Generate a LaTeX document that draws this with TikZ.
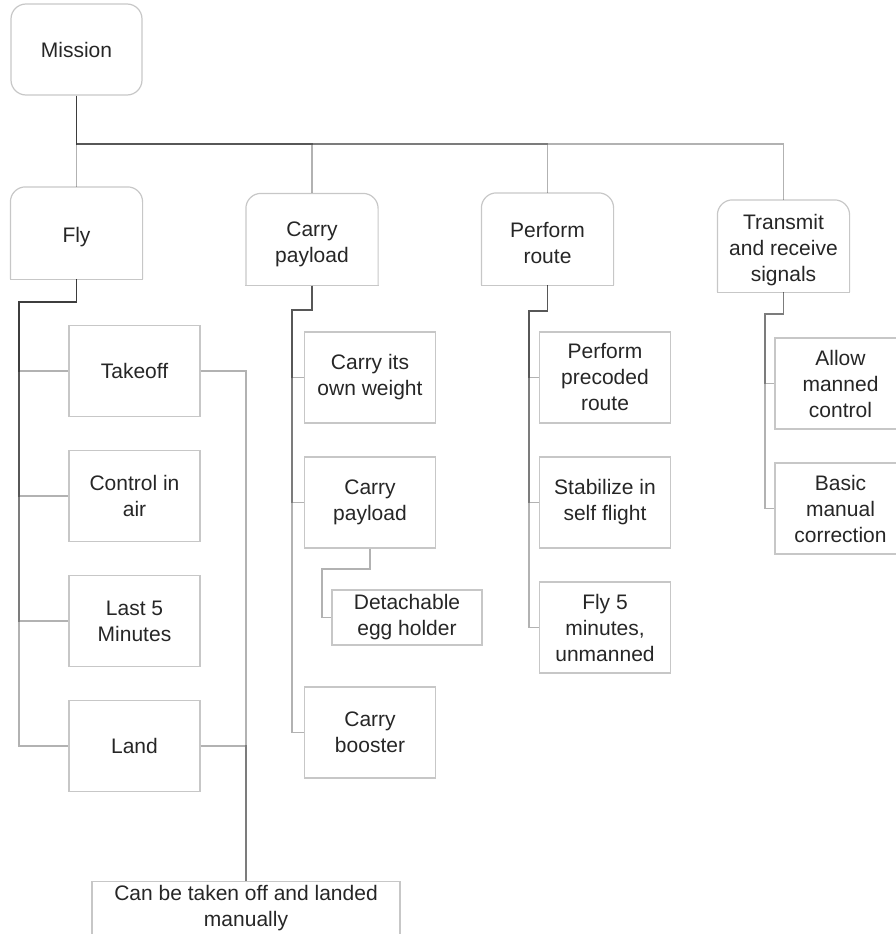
\documentclass[tikz,border=0pt]{standalone}
\usepackage{fontspec}
\setmainfont{Liberation Sans}
\usetikzlibrary{positioning}
\newcommand{\headgap}{\rule{0pt}{24pt}}

\begin{document}
\begin{tikzpicture}[
    x=1pt, y=1pt,
    node distance=32.8pt,
    leaf/.style={rectangle, draw=black!22, line width=1.2pt, align=center, minimum width=131pt, minimum height=91pt, inner sep=2pt, text=black!85, font=\fontsize{21}{26}\selectfont},
    head/.style={leaf, draw=none},
    rim/.style={draw=black!22, line width=1.2pt, rounded corners=15pt},
    link/.style={draw=black, draw opacity=0.3, line width=1.2pt}
]
\path[use as bounding box, clip] (0,0) rectangle (896,-934);

% Nodes
\node[leaf, rounded corners=15pt] (mission) at (76.5,-49.5) {Mission};

\node[head] (fly) at (76.5,-233) {\headgap Fly};
\node[head] (carry) at (312,-239.5) {\headgap Carry\\payload};
\node[head] (route) at (547.5,-239) {\headgap Perform\\route};
\node[head] (signal) at (783.5,-246) {\headgap Transmit\\and receive\\signals};

\node[leaf] (takeoff) at (134.5,-371) {Takeoff};
\node[leaf, below=of takeoff] (ctrl) {Control in\\air};
\node[leaf, below=of ctrl] (last) {Last 5\\Minutes};
\node[leaf, below=of last] (land) {Land};

\node[leaf] (ownweight) at (370,-377.5) {Carry its\\own weight};
\node[leaf, below=of ownweight] (cpay) {Carry\\payload};
\node[leaf, minimum width=150pt, minimum height=55pt] (egg) at (407,-617.5) {Detachable\\egg holder};
\node[leaf] (booster) at (370,-732.5) {Carry\\booster};

\node[leaf] (precoded) at (605,-377.5) {Perform\\precoded\\route};
\node[leaf, below=of precoded] (stabilize) {Stabilize in\\self flight};
\node[leaf, below=of stabilize] (flyfive) {Fly 5\\minutes,\\unmanned};

\node[leaf] (manned) at (840.5,-383.5) {Allow\\manned\\control};
\node[leaf, below=of manned] (correction) {Basic\\manual\\correction};

\node[leaf, anchor=north, minimum width=308pt, minimum height=0pt, inner ysep=4pt, text depth=20pt] (manual) at (246,-881) {Can be taken off and landed\\manually};

% Rounded tops
\foreach \n in {fly, carry, route, signal} {
    \draw[rim] (\n.south west) -- (\n.north west) -- (\n.north east) -- (\n.south east);
    \draw[rim, line cap=rect] (\n.south west) -- (\n.south east);
}

% Links
\coordinate (bus) at (76.5,-144);
\draw[link] (mission.south) -- (fly.north);
\foreach \n in {carry, route, signal}
    \draw[link] (mission.south) -- (bus) -| (\n.north);

\coordinate (flyknee) at (19,-302);
\foreach \n in {takeoff, ctrl, last, land}
    \draw[link] (fly.south) |- (flyknee) |- (\n.west);
\draw[link] (takeoff.east) -| (manual.north);
\draw[link] (land.east) -| (manual.north);

\coordinate (carryknee) at (292,-310);
\foreach \n in {ownweight, cpay, booster}
    \draw[link] (carry.south) |- (carryknee) |- (\n.west);
\coordinate (eggknee) at (322,-569);
\draw[link] (cpay.south) |- (eggknee) |- (egg.west);

\coordinate (routeknee) at (529,-311);
\foreach \n in {precoded, stabilize, flyfive}
    \draw[link] (route.south) |- (routeknee) |- (\n.west);

\coordinate (signalknee) at (765,-314);
\foreach \n in {manned, correction}
    \draw[link] (signal.south) |- (signalknee) |- (\n.west);

\end{tikzpicture}
\end{document}
